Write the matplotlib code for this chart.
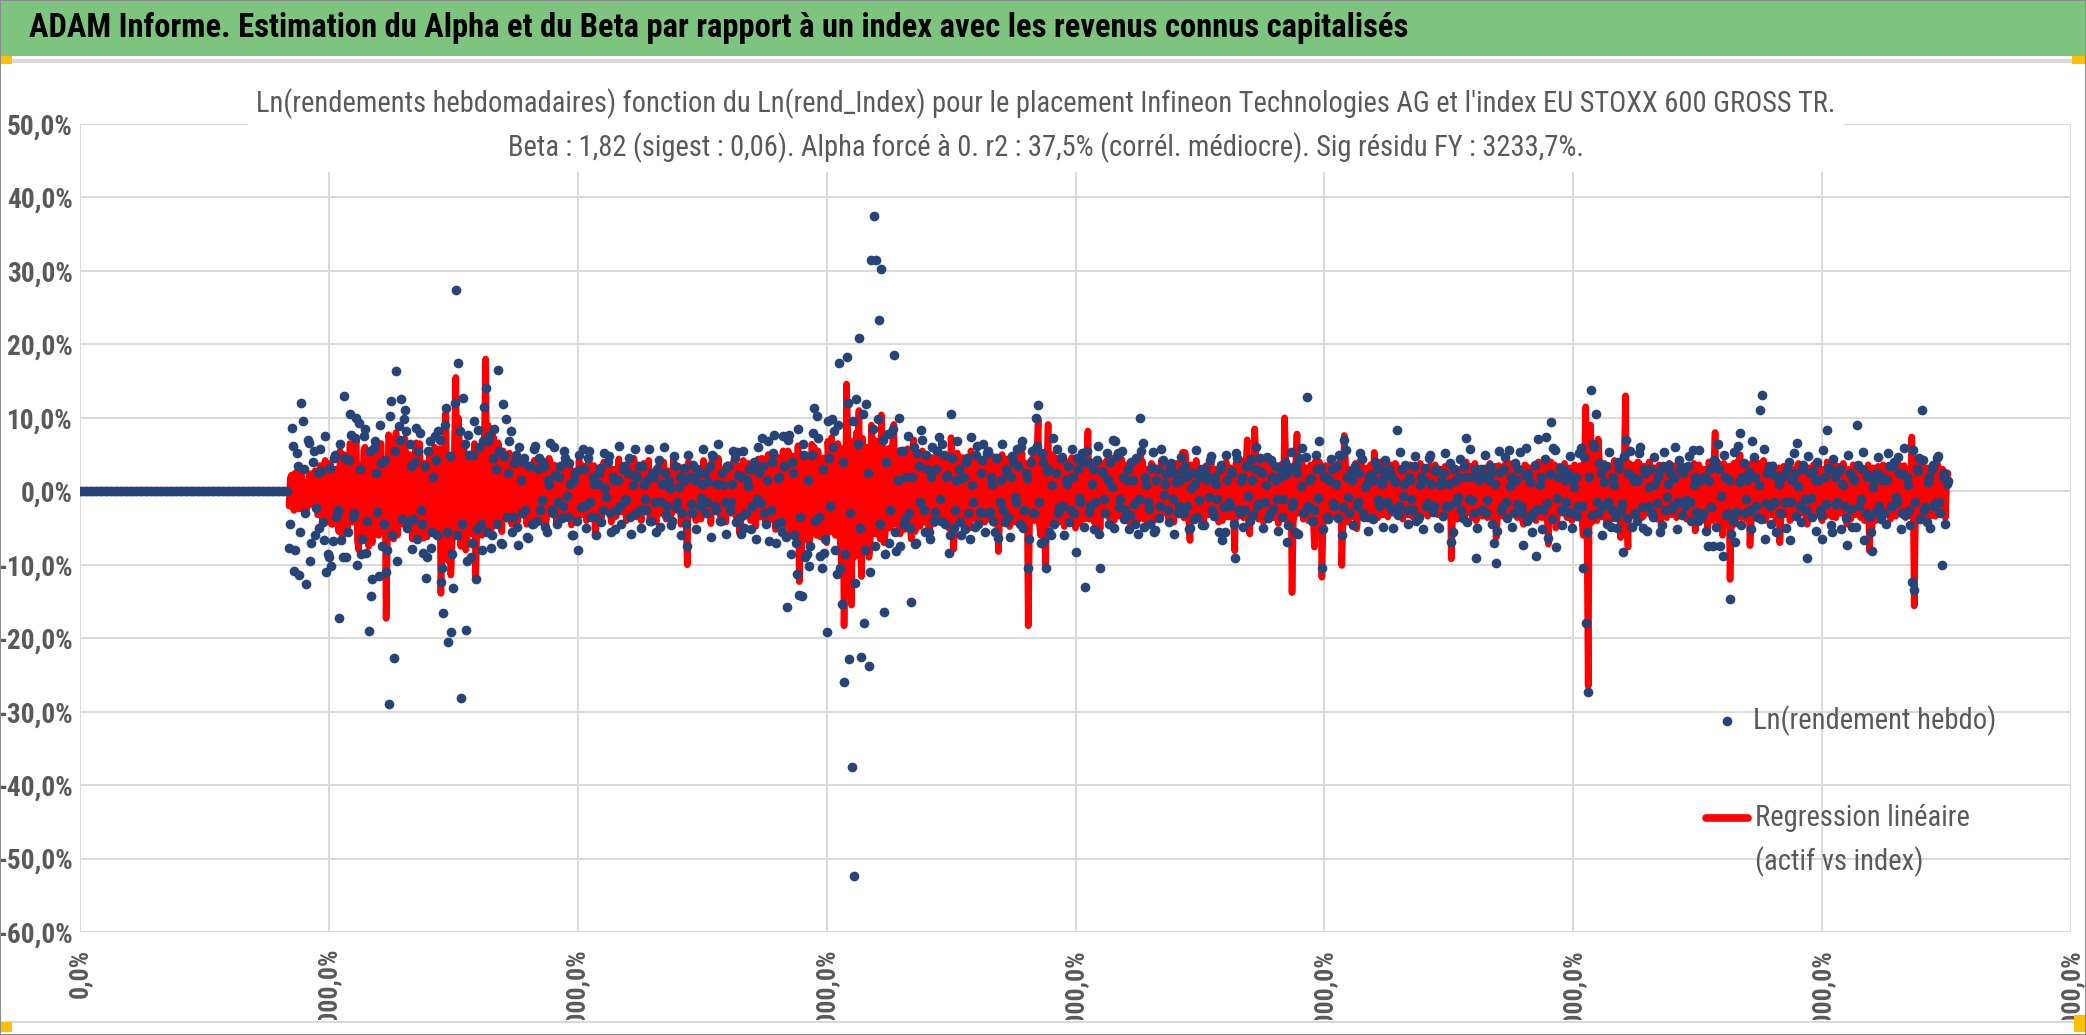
import numpy as np
import matplotlib
matplotlib.use("Agg")
import matplotlib.pyplot as plt
from matplotlib import font_manager as fm
from matplotlib.ticker import FuncFormatter
from matplotlib.patches import Rectangle
from matplotlib.transforms import Bbox, TransformedBbox

# ---------------- data (weekly log-returns, in %) ----------------
zero_count = 84          # weeks before the listing (value 0), every 2nd week
first_even_week = 168
first_odd_week = 169
week_step = 2

# even weeks (168, 170, ...)
ln_rendement = [
    -7.7, 8.6, -10.9, 5.2, -11.4, 12.0, 3.1, -12.6, 6.6, -7.0, 5.5, -2.3, -5.0, 2.8, -6.6, -11.0, -9.0, -10.2, 4.5, -3.5,
    -17.3, -6.6, 13.0, -8.9, 4.2, 7.7, -3.0, 10.0, 9.3, -8.6, 7.5, -8.4, -19.0, -14.3, 5.9, 2.5, -11.6, 3.8, -4.5, -11.0,
    -28.9, 12.3, -22.7, 16.4, 8.9, 12.5, 9.8, 8.2, -4.0, 3.5, -3.8, 8.6, 5.5, -2.5, -8.4, -11.8, 5.5, -7.7, 2.0, 4.2,
    8.2, -12.3, -16.6, 11.4, -20.5, -19.2, -13.2, 27.4, 17.4, -28.1, 12.7, -18.9, 7.7, -8.9, 5.0, -12.0, 8.4, -4.5, 6.8, 14.0,
    6.8, -7.7, 4.5, 3.0, 16.5, -7.0, 11.9, 9.8, 2.5, 8.2, -3.5, 5.0, -7.3, 1.5, 4.0, -2.5, -6.4, 3.5, -4.5, 6.2,
    3.0, -2.5, 4.0, -4.8, 1.5, 6.6, -3.0, 2.2, -1.5, 3.5, -2.0, 4.5, -3.5, 1.0, -5.9, 2.5, -8.0, 3.0, 5.7, -2.0,
    4.5, -1.5, 2.0, -3.5, 1.0, 3.2, -2.5, 0.5, 4.0, -3.0, 2.0, -5.2, 1.5, -2.0, 3.0, -1.0, 2.5, -3.5, 0.8, 5.7,
    2.0, -2.5, 3.5, -1.0, 1.5, -4.0, 2.5, -1.5, 3.0, -4.8, 1.0, 2.5, -2.0, 0.5, -4.0, 3.5, -1.5, 2.0, -3.0, 1.5,
    -7.5, 2.0, -3.0, 1.5, 3.0, -2.0, 1.0, 2.5, -1.5, 3.5, 5.0, -2.0, 1.0, -4.0, 2.5, -1.5, 3.5, -2.5, 1.0, 4.5,
    5.4, -3.5, 2.0, -5.0, 1.5, 3.0, -2.0, 4.0, -1.0, 2.5, 7.3, -3.0, 1.5, -6.8, 4.0, 7.7, -4.5, 2.0, -5.5, 3.5,
    -15.7, 7.6, 4.0, -6.0, -11.3, -14.1, -14.3, 5.0, -8.6, -10.2, 5.0, 11.4, 10.2, -3.5, -10.4, -8.4, -19.2, 4.5, 9.8, 8.2,
    -11.3, 17.5, -15.4, -26.0, 18.3, -22.9, -37.6, -52.4, 12.6, 20.9, -22.5, -18.0, 11.9, -23.8, 31.5, 37.5, 31.5, 23.3, 30.3, -16.5,
    4.0, -7.0, 7.9, 18.6, -8.1, 10.0, 5.5, -4.5, 2.0, -3.0, -15.1, 6.0, -7.0, 3.5, 8.4, -2.5, 5.0, -5.5, 2.0, -4.0,
    3.0, 7.4, -4.0, 5.0, 2.0, -8.4, 10.5, -5.0, 1.5, 3.0, -6.0, 2.0, 4.0, -3.0, 7.4, -1.5, 5.0, -4.5, 2.5, 6.5,
    -3.0, 5.5, 2.0, -4.0, 4.5, -6.3, 1.5, -2.5, 3.0, -3.5, 2.0, 4.0, -1.5, 3.5, 6.0, -5.0, 2.5, -10.4, 4.0, -3.0,
    10.0, 11.7, -7.1, 4.0, -10.4, 3.0, -6.0, 7.3, 2.5, -3.0, 4.5, -2.0, 1.5, 3.5, -2.5, 2.0, -8.2, 3.0, -1.5, 4.0,
    -13.1, 4.0, -2.0, 3.0, -1.5, 6.1, -10.4, 2.5, -3.0, 1.5, 4.0, 7.0, 6.9, 5.2, -1.0, 2.0, -2.5, 3.0, -3.2, 1.5,
    -4.4, -5.8, 10.0, 6.6, 2.0, -1.5, -4.5, 5.4, -5.3, 3.0, -2.0, 4.3, 1.0, -2.5, 3.5, -1.0, 2.5, -3.0, 1.5, 3.0,
    3.5, -2.0, -5.0, 2.5, 1.0, -3.5, 2.0, -4.6, 3.0, 1.5, 4.3, -2.5, 2.0, -1.0, 3.0, -6.6, -5.5, 1.5, -2.0, 2.5,
    -9.1, 4.5, -3.0, 2.0, -2.5, 3.5, -4.0, 1.5, 3.0, -2.0, 4.5, 2.5, -1.5, 4.6, -3.0, 2.0, 3.5, -1.0, 2.0, -3.5,
    4.0, -6.9, 3.0, -2.0, -5.6, 2.5, 4.5, 5.9, -3.0, 12.9, 1.5, -4.0, -2.5, 3.0, 6.8, -10.5, 2.0, -3.5, 1.5, 3.0,
    -2.0, 3.5, 5.0, -6.0, 7.0, 2.0, -3.0, 1.5, 3.0, -2.0, 2.5, 4.4, -3.5, 1.0, 2.0, -3.7, 1.5, 3.0, -2.0, 1.0,
    2.0, -1.5, 3.0, -2.5, 1.5, 8.4, -2.0, 3.0, 1.0, -2.5, 2.0, -1.0, 3.5, -4.0, -3.5, 2.0, 1.5, -2.0, 4.5, 1.0,
    -2.0, 3.0, -5.0, 1.5, 2.5, -2.0, 1.0, -6.9, 3.0, -1.5, 2.0, -2.5, 3.5, 7.2, -1.0, 2.0, -3.0, -9.1, 1.5, 3.0,
    2.0, -3.0, 1.5, 2.5, -7.0, -9.8, 5.5, -2.5, 3.0, -1.5, 5.6, 2.0, -3.0, 1.5, 3.0, -2.0, -7.3, 5.9, 2.5, -3.5,
    -3.0, -8.8, 7.1, 2.0, -2.5, 7.4, -6.3, 9.4, 5.9, -7.6, 2.0, -2.5, 3.0, -1.5, 2.5, -3.0, 1.5, 2.0, -2.0, 5.9,
    -10.5, -18.0, -27.3, 13.8, 6.5, 10.5, -3.0, 2.5, -2.0, 3.5, -1.5, -4.8, 2.0, -3.5, 4.0, -2.5, -8.2, 7.0, 2.5, 5.5,
    2.0, -3.0, 1.5, 6.0, -5.0, 2.5, -2.0, 3.0, -3.5, 1.0, 2.0, -5.6, 3.5, -2.5, 1.0, 2.5, -2.0, 6.0, -1.5, 3.0,
    2.5, -2.0, 3.5, -1.5, 5.6, 2.0, -4.0, 1.5, -3.0, 2.0, -7.5, 3.0, -7.5, 4.0, 6.5, -7.5, -8.8, 2.0, -3.0, -14.7,
    -4.0, -6.9, 6.1, 8.0, 2.0, -3.0, 1.5, -2.5, 6.9, 2.0, -3.5, 11.1, 13.1, -6.5, 2.5, -2.0, 3.5, -1.5, 2.0, -3.0,
    2.0, -1.5, 3.0, -6.7, 1.5, 2.5, 6.6, -2.0, 3.0, -1.0, -9.1, 2.5, -3.5, 1.5, 4.0, -2.5, -6.5, 2.0, 8.4, 3.0,
    -5.6, 2.0, -1.5, 3.0, 1.0, -2.0, -7.3, 2.5, -4.8, 1.5, 9.0, -2.0, 3.0, -6.6, 2.0, -3.5, -8.1, 1.5, 2.5, -2.0,
    2.0, -3.0, 1.5, 3.5, -2.0, 4.0, -1.5, 2.5, -3.0, 5.9, 2.0, -2.5, -12.4, -13.5, 3.0, 4.5, 11.1, -2.5, -4.2, 2.0,
    3.0, -2.0, 4.5, -1.5, -10.0, 2.5, 1.0,
]

regression = [
    -2.0, 2.2, -2.6, 1.5, -2.4, 2.6, 0.8, -2.5, 2.0, -1.8, 2.3, -1.0, -3.0, 1.6, -2.8, -4.2, -3.0, -4.5, 2.5, -1.5,
    -5.5, -3.5, 5.0, -4.5, 2.5, 4.0, -2.0, 7.0, -8.0, -5.0, 5.5, -6.0, -7.5, -6.5, 5.5, 1.5, -6.0, 6.5, -4.0, -17.3,
    7.7, 5.5, -6.5, 8.0, 7.0, 5.0, -2.0, 4.0, -4.5, 3.0, -3.5, 6.6, 3.5, -2.5, -6.4, -5.5, 2.5, -5.0, 1.5, 3.0,
    4.5, -13.9, -8.0, 10.7, -9.5, -11.4, -6.0, 15.5, 10.0, -7.5, 6.5, -8.0, 4.0, -5.5, 3.0, -11.8, 5.5, -3.0, 4.5, 18.0,
    9.0, -4.5, 7.5, 2.0, 6.6, -4.0, 5.5, 4.0, -2.5, 4.5, -3.0, 3.0, -4.0, 1.0, 3.5, -2.0, -3.5, 2.5, -3.0, 4.0,
    2.0, -2.5, 2.8, -5.0, 1.0, 3.5, -2.5, 1.8, -1.0, 3.0, -1.5, 3.5, -3.0, 0.8, -3.5, 2.5, -4.0, 2.0, 3.5, -1.5,
    3.0, -2.0, 1.5, -6.1, 1.0, 2.5, -2.0, 0.5, 3.0, -2.5, 1.5, -3.5, 1.0, -1.5, 2.5, -1.0, 2.0, -2.5, 0.5, 3.5,
    1.5, -2.0, 2.5, -1.0, 1.0, -4.0, 2.0, -1.0, 3.0, -3.0, 0.5, 2.0, -2.0, 0.5, -2.5, 3.0, -1.5, 1.5, -2.5, 1.0,
    -10.0, 1.5, -2.5, 1.0, 2.5, -1.5, 0.5, 2.0, -1.0, 3.0, 5.0, -1.5, 0.5, -3.0, 2.0, -1.0, 3.0, -2.0, 0.5, 3.5,
    3.0, -5.7, 2.5, -3.5, 1.0, 2.5, -2.0, 3.0, -1.0, 2.0, 4.5, -3.0, 1.5, -4.0, 3.5, 5.0, -4.0, 2.0, -4.5, 3.0,
    -4.0, 5.0, 3.0, -4.5, -6.0, -12.3, -8.0, 4.0, -6.0, -7.0, 6.4, 6.0, -6.0, 3.0, -5.5, -4.0, -7.0, 3.5, 7.3, 5.5,
    -6.0, 5.0, -10.0, -18.3, 14.6, -12.0, -15.5, -9.0, 8.0, 11.0, -11.6, -8.0, 6.0, -9.0, 9.0, 7.0, 5.0, 6.5, 10.4, -7.0,
    3.0, -5.0, 6.0, 9.1, -4.0, 5.5, 3.5, -3.0, 1.5, -2.0, -6.5, 7.0, -4.5, 2.5, 5.0, -2.0, 3.0, -6.0, 1.5, -3.0,
    2.0, 4.5, -3.0, 3.5, 1.5, -5.0, 7.3, -7.9, 4.0, 2.5, -4.5, 1.5, 3.0, -2.5, 5.5, -1.0, 4.0, -3.5, 2.0, 4.0,
    -2.5, 4.0, 1.5, -3.0, 3.0, -8.2, 1.0, -2.0, 2.5, -3.0, 1.5, 3.0, -1.0, 2.5, 4.0, -4.0, 2.0, -18.3, 3.0, -2.5,
    6.0, 9.8, -6.0, 3.0, -10.4, 9.1, -4.5, 5.0, 2.0, -2.5, 3.5, -2.0, 1.0, 2.5, -2.0, 1.5, -5.0, 2.5, -1.0, 3.0,
    -3.0, 8.2, -1.5, 2.5, -1.0, 4.0, -5.0, 2.0, -2.5, 1.0, 3.0, 4.5, 3.5, 2.5, -1.0, 1.5, -2.0, 2.5, -2.5, 1.0,
    -3.0, -4.0, 5.0, 4.0, 1.5, -4.7, -3.0, 3.5, -3.5, 2.5, -1.5, 3.0, 1.0, -2.0, 2.5, -1.0, 2.0, -2.5, 1.5, 5.3,
    5.3, -1.5, -6.7, 2.0, 1.0, -3.0, 1.5, -3.5, 2.5, 1.0, 3.0, -2.0, 1.5, -1.0, 2.5, -4.0, -3.5, 1.0, -1.5, 2.0,
    -8.1, 3.0, -2.5, 1.5, -2.0, 7.0, -5.8, 2.0, 8.5, -1.5, 3.5, 2.0, -1.5, 3.0, -2.5, 1.5, 2.5, -1.0, 1.5, -2.5,
    10.0, -4.0, 2.5, -13.8, -3.0, 7.8, 3.0, 4.0, -2.5, 2.0, 1.0, -2.5, -7.6, 2.5, 4.0, -11.7, 1.5, -3.0, 1.0, 2.5,
    -1.5, 3.0, 4.0, -10.1, 7.6, 1.5, -2.5, 1.0, 2.5, -5.1, 2.0, 3.0, -3.0, 1.0, 1.5, -3.0, 5.3, 2.5, -1.5, 1.0,
    1.5, -1.0, 2.5, -2.0, 1.0, 3.5, -1.5, 2.5, 1.0, -2.0, 1.5, -1.0, 2.5, -3.0, -2.5, 1.5, 1.0, -1.5, 3.0, 1.0,
    -1.5, 2.5, -3.0, 1.0, 2.0, -1.5, 1.0, -9.2, 2.5, -1.5, 1.5, -2.0, 2.5, 4.0, -1.0, 1.5, -2.5, -4.0, 1.0, 2.5,
    1.5, -2.5, 1.0, 2.0, -4.0, -6.3, 3.5, -2.0, 2.5, -1.5, 3.5, 1.5, -2.5, 1.0, 2.5, -1.5, -4.5, 3.5, 2.0, -3.0,
    -2.5, -4.0, 4.0, 1.5, -2.0, 4.5, -7.2, 4.0, 3.0, -5.0, 1.5, -2.0, 2.5, -1.0, 2.0, -2.5, 1.0, 1.5, -1.5, 3.5,
    -6.0, 11.5, -26.5, 9.0, 4.0, 6.0, 7.1, 2.0, -2.0, 3.0, -1.5, -3.5, 1.5, -3.0, 3.0, -6.3, 4.0, 13.0, -7.6, 3.0,
    1.5, -2.5, 4.0, 3.0, -3.5, 2.0, -1.5, 2.5, -3.0, 1.0, 1.5, -4.0, 3.0, -2.0, 1.0, 2.0, -1.5, 3.5, -1.0, 2.5,
    2.0, -1.5, 3.0, -1.0, 3.5, -5.4, -3.0, 1.0, -2.5, 1.5, -5.0, 2.5, -4.0, 8.0, 4.0, -5.0, -6.0, 1.5, -2.5, -12.0,
    -3.0, -4.5, 4.0, 5.0, 1.5, -2.5, 1.0, -7.4, 4.0, 1.5, -3.0, 3.5, 4.0, -4.0, 2.0, -1.5, 2.5, -1.0, 1.5, -7.0,
    1.5, -1.0, 2.5, -4.0, 1.0, 2.0, 3.5, -1.5, 2.5, -1.0, -4.5, 2.0, -3.0, 1.0, 3.0, -2.0, -4.0, 1.5, 4.0, 2.5,
    -3.5, 3.7, -1.0, 2.5, 1.0, -2.0, -4.5, 2.0, -3.0, 1.0, 3.5, -1.5, 2.5, -4.0, 1.5, -8.1, -5.0, 1.0, 2.0, -1.5,
    1.5, -2.5, 1.0, 3.0, -1.5, 3.0, -1.0, 2.0, -2.5, 3.5, 1.5, -2.0, 7.4, -15.6, 2.5, 3.0, 4.0, -2.0, -3.0, 1.5,
    2.5, -1.5, 3.0, -1.0, -2.0, 2.0, 1.0,
]

# odd weeks (169, 171, ...)
ln_rendement_odd = [
    -4.5, 6.2, -8.0, 3.5, -5.5, 9.5, -3.0, 7.0, -9.5, 4.0, -6.0, 2.5, 5.8, -4.2, 7.5, -8.5, 3.2, -6.8, 5.0, -2.5,
    6.5, -9.0, 4.5, -5.5, 10.5, -3.5, 7.2, -10.0, 3.0, -6.5, 8.5, -4.0, 5.5, -12.0, 6.8, -2.8, 9.0, -7.5, 4.2, -8.0,
    10.2, -6.0, 5.5, -9.5, 7.0, -3.8, 11.0, -5.0, 6.5, -7.8, 4.0, -6.5, 8.0, -4.5, 3.5, -9.0, 6.8, -5.5, 7.5, -6.0,
    7.0, -10.5, 9.0, -5.5, 4.8, -8.5, 12.0, -6.0, 8.2, -4.5, 6.5, -9.5, 5.0, -7.0, 9.5, -5.2, 6.0, -8.0, 11.5, -5.5,
    7.5, -6.0, 8.5, -4.5, 5.5, -7.2, 4.8, -3.5, 6.8, -5.5, 3.8, -4.8, 6.0, -3.0, 4.5, -6.2, 3.5, -4.5, 5.8, -4.0,
    4.5, -1.2, 3.5, -5.5, 0.8, -2.5, 6.0, -4.4, 2.0, -3.6, 5.5, -0.6, 3.8, -6.0, 1.5, -4.0, 5.0, -2.2, 3.0, -5.0,
    5.5, -3.5, 1.0, -6.0, 2.5, -4.2, 5.2, -0.8, 4.8, -5.5, 1.6, -2.6, 6.2, -4.4, 3.5, -1.2, 4.5, -5.8, 2.2, -3.0,
    3.5, -5.0, 0.9, -2.5, 5.8, -4.0, 2.0, -5.5, 4.2, -1.5, 6.0, -3.2, 1.4, -4.6, 4.8, -2.2, 0.6, -6.0, 3.2, -4.5,
    5.0, -1.8, 3.6, -5.2, 2.5, -0.9, 5.8, -3.0, 1.2, -6.2, 4.8, -2.5, 6.5, -4.0, 0.8, -5.8, 3.4, -1.4, 5.5, -4.2,
    2.2, -5.8, 5.5, -3.0, 0.7, -5.2, 3.2, -6.5, 6.0, -1.6, 3.5, -4.4, 6.8, -2.5, 5.2, -7.0, 1.8, -4.2, 7.5, -6.2,
    7.0, -8.5, 2.5, -7.0, 8.5, -3.5, 6.5, -9.0, 1.5, -7.5, 8.0, -4.0, 7.2, -8.8, 3.0, -6.5, 9.5, -2.0, 6.0, -8.0,
    9.0, -10.5, 4.0, -8.5, 12.0, -3.0, 9.5, -12.5, 6.5, -5.0, 10.5, -8.0, 2.5, -11.0, 8.5, -7.5, 9.8, -4.5, 7.0, -8.5,
    7.8, -2.5, 8.5, -5.5, 1.5, -7.5, 5.5, -3.8, 7.5, -5.0, 2.0, -7.2, 5.2, -1.5, 7.0, -5.5, 3.0, -6.5, 6.0, -2.8,
    5.5, -1.0, 6.5, -4.5, 2.2, -6.0, 4.5, -2.5, 6.8, -4.2, 1.8, -5.2, 4.5, -6.5, 0.8, -4.8, 6.2, -2.8, 4.2, -5.5,
    5.2, -2.8, 1.0, -5.5, 4.5, -1.5, 6.5, -4.2, 2.5, -6.2, 4.8, -0.8, 5.8, -4.5, 6.8, -2.5, 1.8, -6.5, 5.5, -3.0,
    6.2, -1.5, 5.2, -6.8, 2.8, -5.5, 0.8, -4.5, 5.8, -2.2, 4.6, -6.0, 1.0, -4.2, 5.8, -3.0, 4.5, -0.9, 5.2, -4.8,
    5.5, -2.8, 1.0, -5.2, 4.2, -5.8, 2.8, -1.0, 5.2, -4.5, 0.6, -5.0, 4.8, -2.2, 5.5, -3.8, 1.5, -5.2, 4.0, -1.8,
    4.5, -1.0, 5.5, -4.8, 0.8, -2.4, 3.2, -5.5, 1.5, -3.6, 5.8, -0.5, 2.4, -4.2, 3.8, -5.8, 1.2, -2.0, 4.6, -3.0,
    2.0, -5.2, 0.5, -3.8, 5.6, -1.2, 3.0, -4.6, 2.2, -0.8, 4.8, -3.4, 1.0, -5.6, 3.6, -2.2, 5.0, -1.5, 2.8, -4.4,
    5.2, -2.6, 1.4, -4.8, 3.4, -0.6, 4.4, -3.2, 6.0, -1.8, 2.6, -5.0, 0.9, -3.6, 4.2, -2.4, 1.6, -5.4, 3.0, -1.0,
    2.4, -4.6, 5.4, -1.4, 3.6, -5.8, 0.7, -3.0, 4.6, -2.0, 1.8, -4.0, 5.0, -0.9, 3.2, -5.2, 2.0, -3.8, 4.4, -1.6,
    1.0, -3.6, 4.8, -2.2, 5.6, -0.8, 2.8, -4.6, 3.4, -1.4, 5.2, -3.0, 0.6, -5.4, 2.2, -3.8, 4.0, -1.2, 3.0, -4.8,
    4.2, -1.8, 2.4, -5.0, 1.2, -3.2, 5.4, -0.7, 3.6, -4.4, 1.6, -2.6, 4.8, -3.8, 0.8, -5.2, 3.2, -1.6, 5.0, -2.8,
    2.8, -4.8, 0.9, -3.4, 5.2, -2.0, 3.8, -5.6, 1.4, -0.8, 4.4, -3.6, 2.0, -4.2, 5.8, -1.2, 3.0, -5.0, 1.8, -2.6,
    5.0, -1.2, 3.4, -4.4, 1.0, -5.4, 2.6, -2.2, 4.6, -3.6, 0.7, -4.8, 3.8, -1.8, 5.4, -3.0, 2.2, -4.0, 1.2, -5.6,
    3.6, -2.4, 0.8, -5.2, 4.4, -1.6, 2.4, -3.8, 5.6, -0.9, 3.2, -4.6, 1.6, -2.8, 4.8, -5.0, 0.6, -3.4, 5.2, -2.0,
    4.6, -5.6, 2.0, -3.2, 6.0, -1.4, 3.8, -6.0, 1.2, -4.4, 5.4, -2.6, 0.8, -5.0, 3.2, -1.8, 4.8, -3.6, 2.4, -4.8,
    1.4, -4.0, 5.2, -2.2, 3.0, -5.4, 0.6, -3.0, 4.6, -1.6, 2.8, -4.6, 5.4, -0.8, 3.6, -2.4, 1.8, -5.2, 4.2, -3.2,
    3.2, -1.2, 4.8, -4.0, 0.9, -2.8, 5.6, -3.6, 2.0, -5.4, 1.4, -2.2, 4.2, -4.8, 3.0, -0.7, 5.0, -3.2, 1.6, -5.8,
    5.4, -2.8, 1.2, -4.6, 3.8, -1.0, 2.6, -5.2, 4.6, -2.0, 0.8, -3.8, 5.8, -1.6, 3.4, -4.4, 2.2, -5.6, 1.0, -3.0,
    2.2, -5.0, 4.0, -1.4, 5.2, -3.4, 0.7, -4.2, 3.6, -2.6, 4.8, -0.9, 2.8, -5.4, 1.6, -3.2, 5.6, -1.8, 3.2, -4.6,
    4.4, -1.8, 2.6, -5.2, 0.9, -3.6, 5.0, -2.4, 1.8, -4.8, 3.6, -1.0, 5.4, -3.0, 2.2, -5.6, 0.6, -2.8, 4.6, -3.8,
    1.6, -4.4, 5.2, -2.0, 3.4, -0.8, 4.6, -5.2, 2.4, -3.2, 0.8, -4.6, 5.6, -1.4, 2.8, -3.8, 4.2, -2.2, 1.2, -5.0,
    3.6, -1.6, 4.8, -3.0, 2.0, -4.4, 1.4,
]

regression_odd = [
    1.8, -2.2, 2.5, -1.6, 2.0, -2.4, 1.2, -2.0, 2.4, -1.5, 2.8, -3.2, 3.5, -4.0, 4.2, -2.5, 3.8, -4.5, 3.0, -3.6,
    5.5, -6.2, 4.8, -5.0, 6.5, -4.2, 5.8, -6.8, 3.5, -5.5, 6.0, -4.8, 4.5, -7.0, 5.2, -3.8, 6.2, -5.5, 4.0, -6.5,
    6.8, -5.2, 4.5, -6.0, 5.5, -4.5, 7.2, -3.8, 5.0, -6.5, 4.2, -5.8, 6.5, -4.0, 3.8, -6.2, 5.5, -4.5, 6.0, -5.0,
    5.8, -7.5, 6.2, -5.0, 4.5, -6.8, 7.0, -5.5, 6.0, -4.2, 5.2, -6.5, 4.8, -5.8, 6.5, -4.5, 5.0, -6.0, 7.5, -4.8,
    5.5, -5.0, 6.0, -4.2, 4.8, -5.5, 4.0, -3.8, 5.2, -4.5, 3.5, -4.0, 4.5, -3.2, 3.8, -4.5, 3.0, -3.8, 4.2, -3.5,
    3.8, -4.2, 3.2, -3.5, 4.5, -2.8, 3.6, -4.4, 2.5, -3.8, 4.0, -3.0, 3.4, -4.6, 2.8, -3.5, 4.2, -3.2, 3.0, -4.0,
    4.2, -3.0, 3.5, -4.5, 2.8, -3.6, 4.0, -2.5, 3.8, -4.2, 3.0, -3.4, 4.4, -2.8, 3.2, -4.0, 3.6, -3.0, 4.5, -3.5,
    3.0, -4.0, 3.8, -2.8, 4.2, -3.5, 2.6, -4.2, 3.5, -3.0, 4.0, -3.8, 2.8, -3.2, 4.4, -2.6, 3.4, -4.5, 3.0, -3.6,
    4.0, -3.2, 3.6, -4.0, 2.8, -3.8, 4.2, -3.0, 3.2, -4.4, 3.8, -2.8, 4.5, -3.5, 3.0, -4.2, 3.6, -3.0, 4.0, -3.4,
    3.5, -4.5, 4.2, -3.0, 3.8, -4.0, 3.0, -4.8, 4.4, -3.5, 3.2, -4.2, 5.0, -3.8, 4.0, -5.2, 4.6, -3.6, 5.5, -4.8,
    5.5, -6.0, 4.8, -5.2, 6.2, -4.5, 5.0, -6.5, 4.2, -5.8, 6.0, -4.8, 5.5, -6.2, 4.5, -5.0, 6.8, -5.5, 4.8, -6.0,
    6.5, -7.0, 5.8, -6.2, 7.5, -5.5, 6.8, -7.8, 5.2, -6.5, 7.2, -6.0, 5.5, -7.0, 6.2, -5.8, 6.8, -6.5, 5.5, -6.0,
    5.8, -5.0, 6.2, -4.5, 5.0, -5.8, 4.5, -5.2, 5.8, -4.0, 4.8, -5.5, 4.2, -4.8, 5.5, -4.2, 4.0, -5.0, 4.6, -4.4,
    4.5, -4.0, 5.0, -3.6, 4.2, -4.8, 3.8, -4.4, 5.2, -3.5, 4.6, -4.2, 3.6, -5.0, 4.4, -3.8, 4.8, -4.5, 3.5, -4.2,
    4.2, -3.8, 4.8, -4.4, 3.6, -4.0, 5.0, -3.5, 4.4, -4.8, 3.8, -4.2, 4.6, -3.6, 5.2, -4.5, 3.8, -5.0, 4.4, -4.0,
    5.0, -4.5, 4.2, -5.2, 3.8, -4.4, 4.8, -3.6, 4.5, -4.2, 3.8, -4.8, 4.0, -3.5, 4.6, -4.0, 3.6, -4.4, 4.2, -3.8,
    4.4, -3.8, 4.0, -4.2, 3.5, -4.6, 3.8, -3.2, 4.2, -3.6, 3.4, -4.0, 3.8, -3.4, 4.4, -3.0, 3.6, -4.2, 3.2, -3.8,
    3.6, -3.2, 4.0, -3.8, 3.0, -3.5, 3.8, -4.0, 3.2, -3.6, 4.2, -3.0, 3.5, -3.8, 3.0, -4.2, 3.8, -3.2, 3.4, -3.6,
    3.2, -3.8, 3.6, -3.0, 4.2, -3.4, 3.0, -4.0, 3.5, -3.2, 3.8, -3.6, 3.0, -4.2, 3.6, -3.0, 4.0, -3.5, 3.2, -3.8,
    3.8, -3.4, 4.2, -3.6, 3.2, -4.0, 3.6, -3.0, 4.5, -3.8, 3.4, -4.2, 3.8, -3.2, 4.0, -3.6, 3.0, -4.4, 3.6, -3.4,
    4.0, -3.6, 3.4, -4.2, 3.8, -3.0, 4.4, -3.8, 3.2, -4.0, 3.6, -3.4, 4.2, -3.6, 3.0, -4.0, 3.5, -3.2, 3.8, -3.5,
    3.4, -3.8, 4.0, -3.2, 3.6, -4.2, 3.0, -3.5, 3.8, -3.0, 4.2, -3.6, 3.2, -3.8, 3.6, -3.0, 3.4, -3.6, 4.0, -3.2,
    3.2, -3.5, 3.6, -3.0, 3.8, -3.4, 3.0, -3.8, 3.4, -3.2, 3.6, -3.5, 3.0, -3.6, 3.8, -3.0, 3.2, -3.4, 3.5, -3.0,
    3.6, -3.2, 3.0, -3.6, 3.4, -3.0, 3.8, -3.4, 3.2, -3.8, 3.0, -3.2, 3.6, -3.0, 3.4, -3.6, 3.8, -3.2, 3.0, -3.4,
    3.2, -3.6, 3.8, -3.0, 3.4, -3.8, 3.0, -3.4, 3.6, -3.2, 3.8, -3.0, 3.4, -3.6, 3.0, -3.8, 3.6, -3.4, 3.2, -3.6,
    3.4, -3.0, 3.8, -3.6, 3.2, -3.4, 4.0, -3.2, 3.6, -3.8, 3.4, -3.0, 3.8, -3.6, 3.2, -4.0, 3.6, -3.2, 3.4, -3.8,
    4.0, -3.8, 4.5, -4.2, 3.6, -4.0, 4.2, -3.5, 3.8, -4.4, 3.5, -3.8, 4.2, -3.2, 3.6, -4.0, 4.4, -3.6, 3.8, -3.4,
    3.6, -3.2, 3.8, -3.6, 3.4, -3.0, 4.0, -3.4, 3.2, -3.8, 3.6, -3.0, 3.4, -3.6, 3.8, -3.2, 3.0, -3.6, 3.4, -3.0,
    3.4, -3.8, 3.2, -3.4, 3.8, -3.0, 3.6, -4.0, 3.0, -3.6, 4.0, -3.4, 3.6, -3.8, 3.2, -4.2, 3.8, -3.6, 3.4, -4.0,
    3.8, -3.4, 4.0, -3.6, 3.4, -3.8, 3.2, -4.2, 3.6, -3.0, 3.8, -3.4, 4.2, -3.6, 3.4, -3.2, 3.6, -3.8, 3.2, -3.6,
    3.4, -3.2, 3.6, -3.8, 3.0, -3.4, 3.8, -3.0, 3.4, -3.6, 3.2, -3.4, 3.6, -3.0, 3.8, -3.6, 3.0, -3.4, 3.6, -3.2,
    3.2, -3.6, 3.4, -3.0, 3.8, -3.4, 3.0, -3.8, 3.6, -3.2, 3.4, -3.6, 3.0, -3.8, 3.6, -3.4, 3.2, -4.0, 3.4, -3.2,
    3.6, -3.0, 3.4, -3.8, 3.2, -3.4, 3.8, -3.0, 3.4, -3.6, 3.0, -3.4, 3.8, -3.2, 3.6, -3.0, 3.4, -3.8, 3.2, -3.4,
    3.0, -3.4, 3.6, -3.2, 3.0, -3.6, 2.5,
]

pre_listing = [0.0] * zero_count

x_ticks = [0, 200, 400, 600, 800, 1000, 1200, 1400, 1600]
y_ticks = [-60, -50, -40, -30, -20, -10, 0, 10, 20, 30, 40, 50]

bar_title = ("ADAM Informe. Estimation du Alpha et du Beta par rapport à un index "
             "avec les revenus connus capitalisés")
chart_title = ("Ln(rendements hebdomadaires) fonction du Ln(rend_Index) pour le placement "
               "Infineon Technologies AG et l'index EU STOXX 600 GROSS TR.\n"
               "Beta : 1,82 (sigest : 0,06). Alpha forcé à 0. r2 : 37,5% (corrél. médiocre). "
               "Sig résidu FY : 3233,7%.")
legend_dots = "Ln(rendement hebdo)"
legend_line = ["Regression linéaire", "(actif vs index)"]

# ---------------- fonts / colours ----------------
def pick_font():
    entries = fm.fontManager.ttflist
    names = {f.name for f in entries}
    for p in ['Liberation Sans Narrow', 'Roboto Condensed', 'Open Sans Condensed',
              'DejaVu Sans Condensed', 'Noto Sans Condensed', 'Arial Narrow']:
        if p in names:
            return p, 'normal'
    for f in entries:
        if f.stretch in ('condensed', 'semi-condensed') and f.name in (
                'DejaVu Sans', 'Noto Sans', 'Open Sans', 'Roboto', 'Liberation Sans', 'Lato'):
            return f.name, f.stretch
    return 'Liberation Sans', 'normal'

FONT, STRETCH = pick_font()
FAM = [FONT, 'DejaVu Sans']
plt.rcParams['font.family'] = FAM
plt.rcParams['font.stretch'] = STRETCH

NAVY = '#264478'
RED = '#FF0000'
GREY_TXT = '#595959'
GRID = '#D9D9D9'

W, H = 2086, 1035
fig = plt.figure(figsize=(W / 100, H / 100), dpi=100)
fig.patch.set_facecolor('white')

# header bar
fig.patches.append(Rectangle((0, 1 - 56 / H), 1, 56 / H, transform=fig.transFigure,
                             facecolor='#7DC57F', edgecolor='none', zorder=0))
fig.patches.append(Rectangle((0, 1 - 63 / H), 1, 4 / H, transform=fig.transFigure,
                             facecolor='#D9D9D9', edgecolor='none', zorder=0))
# bottom frame line of the chart area
fig.patches.append(Rectangle((0, 1 - 1023 / H), 1, 2 / H, transform=fig.transFigure,
                             facecolor='#D9D9D9', edgecolor='none', zorder=0))
t_bar = fig.text(29 / W, 1 - 28 / H, bar_title, ha='left', va='center', fontsize=22,
                 fontweight='bold', color='black')
for (x0, y0, w, h) in [(0, 56, 12, 8), (2072, 56, 14, 8), (0, 1022, 12, 10), (2074, 1015, 12, 17)]:
    fig.patches.append(Rectangle((x0 / W, 1 - (y0 + h) / H), w / W, h / H, transform=fig.transFigure,
                                 facecolor='#FFC000', edgecolor='none', zorder=1))
fig.patches.append(Rectangle((0, 0), 1, 1, transform=fig.transFigure, facecolor='none',
                             edgecolor='#8C8C8C', lw=1.5, zorder=1))

# ---------------- axes ----------------
left, right, top, bottom = 80, 2071, 124, 932
ax = fig.add_axes([left / W, 1 - bottom / H, (right - left) / W, (bottom - top) / H])

weeks_pre = np.arange(0, zero_count * week_step, week_step)
w_even_ret = np.arange(first_even_week, first_even_week + week_step * len(ln_rendement), week_step)
w_even_reg = np.arange(first_even_week, first_even_week + week_step * len(regression), week_step)
w_odd_ret = np.arange(first_odd_week, first_odd_week + week_step * len(ln_rendement_odd), week_step)
w_odd_reg = np.arange(first_odd_week, first_odd_week + week_step * len(regression_odd), week_step)

reg_w = np.concatenate([w_even_reg, w_odd_reg])
reg_v = np.concatenate([regression, regression_odd])
o = np.argsort(reg_w, kind='stable')
reg_w, reg_v = reg_w[o], reg_v[o]

ret_w = np.concatenate([weeks_pre, w_even_ret, w_odd_ret])
ret_v = np.concatenate([pre_listing, ln_rendement, ln_rendement_odd])
o = np.argsort(ret_w, kind='stable')
ret_w, ret_v = ret_w[o], ret_v[o]

ax.plot(reg_w, reg_v, color=RED, lw=4.8, solid_capstyle='round',
        solid_joinstyle='round', zorder=2)
ax.plot(ret_w, ret_v, 'o', ms=7.0, color=NAVY, mec='none', zorder=3)

ax.set_xlim(0, 1600)
ax.set_ylim(-60, 50)
ax.set_xticks(x_ticks)
ax.set_yticks(y_ticks)
ax.yaxis.set_major_formatter(FuncFormatter(lambda v, p: f"{v:.1f}%".replace('.', ',')))
ax.xaxis.set_major_formatter(FuncFormatter(lambda v, p: f"{v * 100:.1f}%".replace('.', ',')))
ax.grid(True, color=GRID, lw=1.4)
ax.set_axisbelow(True)
for s in ax.spines.values():
    s.set_visible(False)
ax.tick_params(length=0, colors=GREY_TXT, labelsize=18)
ax.tick_params(axis='y', pad=5)
ax.tick_params(axis='x', pad=5.5, labelrotation=90)

# chart title with white box covering the grid
t_title = fig.text(0.5015, 1 - 126 / H, chart_title, ha='center', va='center', fontsize=21,
                   color=GREY_TXT, linespacing=1.55,
                   bbox=dict(facecolor='white', edgecolor='none', pad=6))

# legend (keys and texts placed in axes fraction)
def axy(py):
    return (bottom - py) / (bottom - top)

def axx(px):
    return (px - left) / (right - left)

ax.plot([axx(1727)], [axy(721)], 'o', ms=7.0, color=NAVY, mec='none',
        transform=ax.transAxes, clip_on=False, zorder=5)
ax.plot([axx(1706), axx(1748)], [axy(818), axy(818)], color=RED, lw=5.5,
        solid_capstyle='round', transform=ax.transAxes, clip_on=False, zorder=5)
t_leg = [ax.text(axx(1753), axy(721), legend_dots, transform=ax.transAxes, ha='left',
                 va='center', fontsize=22, color=GREY_TXT),
         ax.text(axx(1755), axy(818), legend_line[0], transform=ax.transAxes, ha='left',
                 va='center', fontsize=22, color=GREY_TXT),
         ax.text(axx(1755), axy(862), legend_line[1], transform=ax.transAxes, ha='left',
                 va='center', fontsize=22, color=GREY_TXT)]

def style_ticks():
    for lab in ax.get_yticklabels() + ax.get_xticklabels():
        lab.set_fontweight('bold')
    for lab in ax.get_xticklabels():
        lab.set_va('top')
        lab.set_ha('center')

style_ticks()

# ---- fit text sizes to the widths measured on the reference ----
fig.canvas.draw()
rend = fig.canvas.get_renderer()

def width(t):
    return t.get_window_extent(rend).width

t_bar.set_fontsize(t_bar.get_fontsize() * 1384 / width(t_bar))
t_title.set_fontsize(t_title.get_fontsize() * 1578 / width(t_title))
s_leg = t_leg[0].get_fontsize() * 243 / width(t_leg[0])
for t in t_leg:
    t.set_fontsize(s_leg)

lab50 = [l for l in ax.get_yticklabels() if l.get_text() == '50,0%'][0]
ax.tick_params(axis='y', labelsize=18 * 66 / width(lab50))
lab0 = ax.get_xticklabels()[0]
ax.tick_params(axis='x', labelsize=18 * 49 / lab0.get_window_extent(rend).height)
style_ticks()

# align tick label positions with the reference (y labels end at x=73, x labels start at y=949)
fig.canvas.draw()
ylab = [l for l in ax.get_yticklabels() if l.get_text() == '50,0%'][0]
x1 = ylab.get_window_extent(rend).x1
ax.tick_params(axis='y', pad=max(0.5, 5 + (x1 - 73) * 0.72))
xlab = ax.get_xticklabels()[0]
y1 = xlab.get_window_extent(rend).y1
ax.tick_params(axis='x', pad=max(0.5, 5.5 + (y1 - (H - 949)) * 0.72))
style_ticks()

fig.canvas.draw()
clip = TransformedBbox(Bbox.from_extents(0, 15 / H, 1, 1), fig.transFigure)
for tk in ax.xaxis.get_major_ticks():
    tk.label1.set_clip_on(True)
    tk.label1.set_clip_box(clip)

fig.savefig('out.png', dpi=100, facecolor='white')
